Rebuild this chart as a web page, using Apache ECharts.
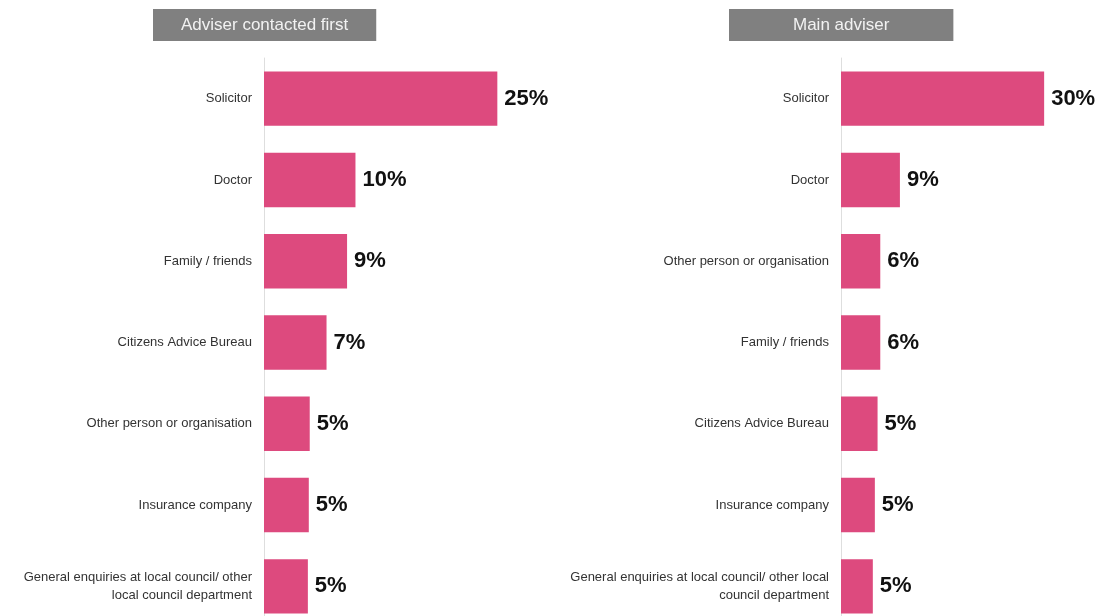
<!DOCTYPE html>
<html>
<head>
<meta charset="utf-8">
<script src="https://cdn.jsdelivr.net/npm/echarts@6/dist/echarts.min.js"></script>
<style>
html,body{margin:0;padding:0;background:#fff;overflow:hidden;}
#chart{width:1101px;height:632px;}
</style>
</head>
<body>
<div id="chart"></div>
<script>
const titleLeft = 'Adviser contacted first';
const titleRight = 'Main adviser';
const categoriesLeft = ['Solicitor', 'Doctor', 'Family / friends', 'Citizens Advice Bureau', 'Other person or organisation', 'Insurance company', 'General enquiries at local council/ other\nlocal council department'];
const valuesLeft = [25, 9.8, 8.9, 6.7, 4.9, 4.8, 4.7];
const categoriesRight = ['Solicitor', 'Doctor', 'Other person or organisation', 'Family / friends', 'Citizens Advice Bureau', 'Insurance company', 'General enquiries at local council/ other local\ncouncil department'];
const valuesRight = [30, 8.7, 5.8, 5.8, 5.4, 5.0, 4.7];

const FONT = '"Liberation Sans", Arial, Helvetica, sans-serif';
const BAR = '#dd4a7e';

function yAxis(idx, cats) {
  return {
    type: 'category', gridIndex: idx, data: cats, inverse: true,
    axisTick: {show: false},
    axisLine: {show: true, lineStyle: {color: '#dedede', width: 1}},
    axisLabel: {fontFamily: FONT, fontSize: 13, color: '#333', margin: 12, lineHeight: 18, align: 'right'},
    splitLine: {show: false}
  };
}
function xAxis(idx, max) {
  return {type: 'value', gridIndex: idx, min: 0, max: max, show: false, splitLine: {show: false}};
}
function series(idx, vals) {
  return {
    type: 'bar', xAxisIndex: idx, yAxisIndex: idx, data: vals,
    barCategoryGap: '33%',
    itemStyle: {color: BAR},
    label: {show: true, position: 'right', distance: 7, fontFamily: FONT, fontSize: 22, fontWeight: 'bold', color: '#111',
      formatter: p => Math.round(p.value) + '%'}
  };
}
function title(text, left, padH) {
  return {
    text: text, left: left, top: 9,
    backgroundColor: '#808080',
    padding: [7, padH, 7, padH],
    textStyle: {fontFamily: FONT, fontSize: 17, fontWeight: 'normal', color: '#f2f2f2', lineHeight: 18}
  };
}

const chart = echarts.init(document.getElementById('chart'), null, {renderer: 'canvas'});
chart.setOption({
  animation: false,
  backgroundColor: '#ffffff',
  title: [title(titleLeft, 153, 28), title(titleRight, 729, 64)],
  grid: [
    {left: 264, top: 58, width: 280, height: 569},
    {left: 841, top: 58, width: 237, height: 569}
  ],
  xAxis: [xAxis(0, 30), xAxis(1, 35)],
  yAxis: [yAxis(0, categoriesLeft), yAxis(1, categoriesRight)],
  series: [series(0, valuesLeft), series(1, valuesRight)]
});
</script>
</body>
</html>
